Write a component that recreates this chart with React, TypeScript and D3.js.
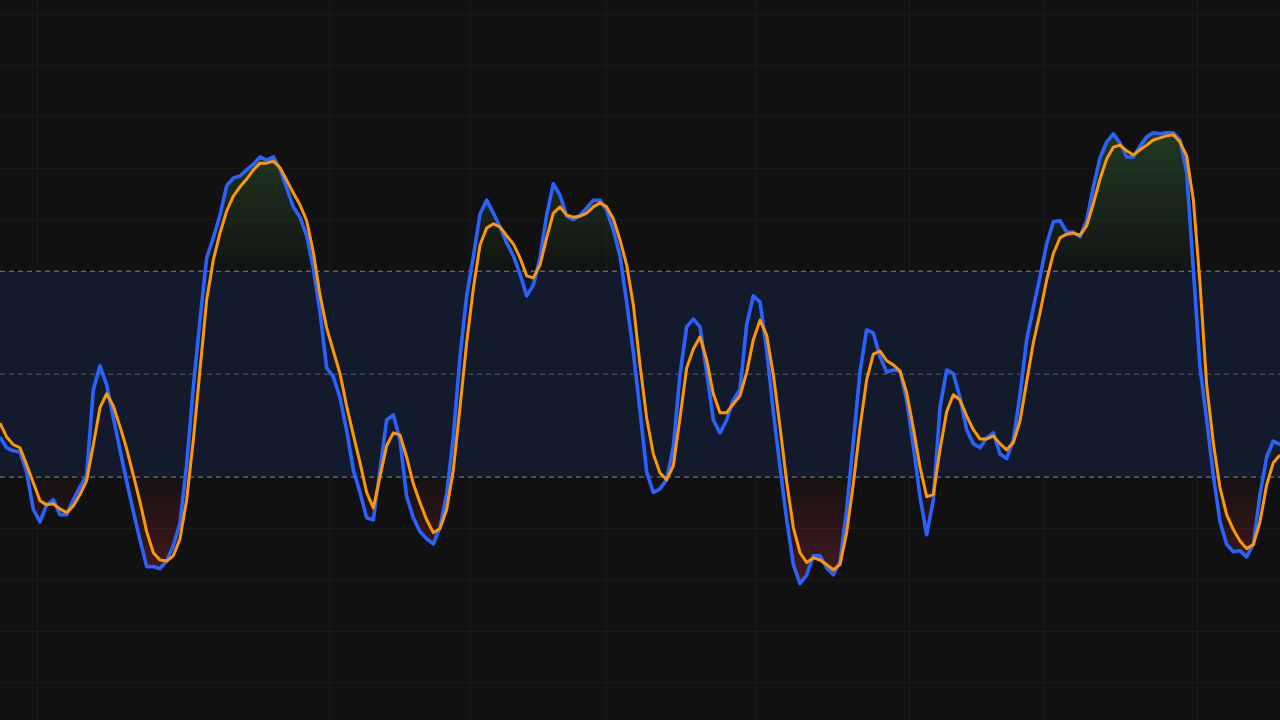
import React from 'react';
import * as d3 from 'd3';

const WIDTH = 1280;
const HEIGHT = 720;

// Stoch RSI %K (blue)
const kValues: number[] = [
  37.8, 35.7, 35.1, 34.9, 31.0, 23.7, 21.3, 24.6, 25.6, 22.7, 22.7, 25.6,
  28.1, 30.4, 47.0, 51.6, 47.9, 41.5, 35.3, 29.1, 23.3, 17.8, 12.6, 12.6,
  12.2, 13.7, 16.7, 21.1, 32.4, 47.5, 60.5, 72.6, 76.5, 80.9, 86.6, 88.1,
  88.5, 89.7, 90.8, 92.2, 91.6, 92.2, 89.9, 86.2, 82.5, 80.5, 76.9, 70.6,
  62.1, 51.2, 49.5, 45.4, 39.0, 31.4, 27.0, 22.1, 21.7, 31.4, 41.1, 42.1,
  37.2, 26.2, 22.1, 19.4, 18.0, 17.0, 20.2, 26.8, 37.8, 53.4, 65.2, 72.8,
  81.1, 83.8, 81.3, 78.6, 75.5, 73.0, 69.5, 65.2, 67.3, 72.6, 80.9, 87.0,
  84.8, 80.7, 80.0, 80.9, 82.3, 83.8, 83.8, 81.9, 78.0, 73.0, 64.0, 54.3,
  42.9, 31.0, 27.0, 27.7, 29.5, 35.9, 49.9, 59.2, 60.7, 59.2, 50.4, 41.1,
  38.6, 41.1, 45.0, 47.0, 59.6, 65.2, 64.0, 54.7, 42.7, 32.0, 21.7, 13.0,
  9.3, 11.0, 14.7, 14.7, 12.4, 11.0, 13.6, 23.7, 36.9, 50.4, 58.6, 58.0,
  53.4, 50.4, 50.8, 50.6, 45.0, 36.1, 26.2, 18.8, 25.6, 43.5, 50.8, 50.1,
  45.4, 39.2, 36.5, 35.7, 37.6, 38.6, 34.5, 33.6, 37.2, 46.0, 56.7, 62.9,
  68.9, 75.3, 79.6, 79.8, 77.6, 77.6, 76.7, 79.8, 86.4, 92.0, 95.1, 96.7,
  94.9, 92.2, 92.2, 94.3, 96.1, 96.9, 96.7, 96.9, 96.9, 95.5, 89.3, 70.3,
  51.4, 41.1, 30.3, 21.3, 16.9, 15.5, 15.7, 14.5, 16.9, 26.6, 33.9, 37.0,
  36.3,
];

// Stoch RSI %D (orange)
const dValues: number[] = [
  40.5, 37.8, 36.3, 35.7, 32.4, 28.9, 25.4, 24.6, 24.8, 23.8, 23.1, 24.4,
  26.6, 29.3, 36.3, 43.5, 46.2, 43.8, 39.8, 35.5, 30.4, 25.2, 19.4, 15.3,
  13.9, 13.7, 14.7, 18.0, 25.6, 37.2, 50.8, 64.4, 72.2, 77.4, 81.7, 84.6,
  86.4, 87.9, 89.7, 91.0, 91.0, 91.4, 90.1, 87.7, 85.2, 82.9, 79.8, 73.7,
  65.4, 59.0, 54.5, 50.1, 43.8, 38.2, 32.8, 27.0, 24.0, 30.1, 36.1, 38.6,
  38.2, 33.9, 28.7, 25.0, 21.7, 19.2, 20.0, 23.7, 31.4, 43.5, 56.1, 66.6,
  75.1, 78.4, 79.2, 78.6, 76.9, 75.3, 72.6, 69.1, 68.7, 71.2, 76.5, 81.3,
  82.5, 80.9, 80.5, 80.7, 81.3, 82.5, 83.3, 82.5, 80.2, 76.1, 71.2, 63.5,
  51.8, 41.5, 34.5, 30.8, 29.5, 32.2, 41.5, 51.2, 54.9, 57.2, 52.8, 46.2,
  42.5, 42.5, 44.2, 45.8, 50.3, 56.7, 60.5, 57.6, 49.9, 39.8, 29.1, 20.2,
  15.3, 13.4, 14.3, 13.9, 13.0, 12.0, 13.0, 19.2, 28.7, 39.6, 48.9, 53.9,
  54.5, 52.6, 51.8, 50.6, 46.4, 39.6, 32.0, 26.2, 26.6, 35.3, 42.7, 46.0,
  45.0, 41.9, 39.2, 37.4, 37.4, 38.0, 36.5, 35.3, 36.7, 40.9, 48.5, 56.1,
  61.9, 68.3, 73.4, 76.5, 77.2, 77.4, 77.0, 78.8, 83.1, 87.9, 91.8, 94.1,
  94.5, 93.4, 92.6, 93.6, 94.5, 95.5, 95.9, 96.3, 96.5, 95.1, 92.4, 83.9,
  67.7, 47.9, 36.7, 27.9, 22.7, 19.8, 17.6, 16.1, 16.9, 21.3, 28.5, 32.8,
  34.3,
];

const UPPER = 70;
const MIDDLE = 50;
const LOWER = 30;
const Y_DOMAIN: [number, number] = [-17.2, 122.7];
const gridLevels = d3.range(-10, 121, 10);
// bar positions of the time grid lines
const timeGridAt = [5.6, 49.4, 70.5, 91, 113.4, 136.4, 156.5, 179.6];

const BG = '#111111';
const BAND = '#131a2b';
const K_COLOR = '#2962ff';
const D_COLOR = '#ff9800';

const App = () => {
  const x = d3.scaleLinear().domain([0, kValues.length - 1]).range([0, WIDTH]);
  const y = d3.scaleLinear().domain(Y_DOMAIN).range([HEIGHT, 0]);

  const line = d3
    .line<number>()
    .x((d, i) => x(i))
    .y((d) => y(d));

  const upperArea = d3
    .area<number>()
    .x((d, i) => x(i))
    .y0(y(UPPER))
    .y1((d) => y(Math.max(d, UPPER)));

  const lowerArea = d3
    .area<number>()
    .x((d, i) => x(i))
    .y0(y(LOWER))
    .y1((d) => y(Math.min(d, LOWER)));

  return (
    <div style={{ position: 'fixed', left: 0, top: 0, width: WIDTH, height: HEIGHT, background: BG }}>
      <svg width={WIDTH} height={HEIGHT} style={{ display: 'block' }}>
        <defs>
          <linearGradient id="ob" gradientUnits="userSpaceOnUse" x1={0} x2={0} y1={y(100)} y2={y(UPPER)}>
            <stop offset="0%" stopColor="#4caf50" stopOpacity={0.28} />
            <stop offset="100%" stopColor="#4caf50" stopOpacity={0.02} />
          </linearGradient>
          <linearGradient id="os" gradientUnits="userSpaceOnUse" x1={0} x2={0} y1={y(0)} y2={y(LOWER)}>
            <stop offset="0%" stopColor="#f23645" stopOpacity={0.34} />
            <stop offset="100%" stopColor="#f23645" stopOpacity={0.02} />
          </linearGradient>
        </defs>

        <rect width={WIDTH} height={HEIGHT} fill={BG} />

        <g className="grid">
          {gridLevels.map((v) => (
            <line key={`h${v}`} x1={0} x2={WIDTH} y1={y(v)} y2={y(v)} stroke="#ffffff" strokeOpacity={0.045} />
          ))}
          {timeGridAt.map((t) => (
            <line key={`v${t}`} x1={x(t)} x2={x(t)} y1={0} y2={HEIGHT} stroke="#ffffff" strokeOpacity={0.045} />
          ))}
        </g>

        <rect x={0} width={WIDTH} y={y(UPPER)} height={y(LOWER) - y(UPPER)} fill={BAND} />

        <path d={upperArea(kValues) || ''} fill="url(#ob)" />
        <path d={lowerArea(kValues) || ''} fill="url(#os)" />

        {[UPPER, MIDDLE, LOWER].map((v) => (
          <line
            key={`l${v}`}
            x1={0}
            x2={WIDTH}
            y1={y(v)}
            y2={y(v)}
            stroke="#b2b5be"
            strokeOpacity={v === MIDDLE ? 0.45 : 0.7}
            strokeDasharray="5,4"
          />
        ))}

        <path d={line(kValues) || ''} fill="none" stroke={K_COLOR} strokeWidth={3.6} strokeLinejoin="round" />
        <path d={line(dValues) || ''} fill="none" stroke={D_COLOR} strokeWidth={3} strokeLinejoin="round" />
      </svg>
    </div>
  );
};

export default App;
